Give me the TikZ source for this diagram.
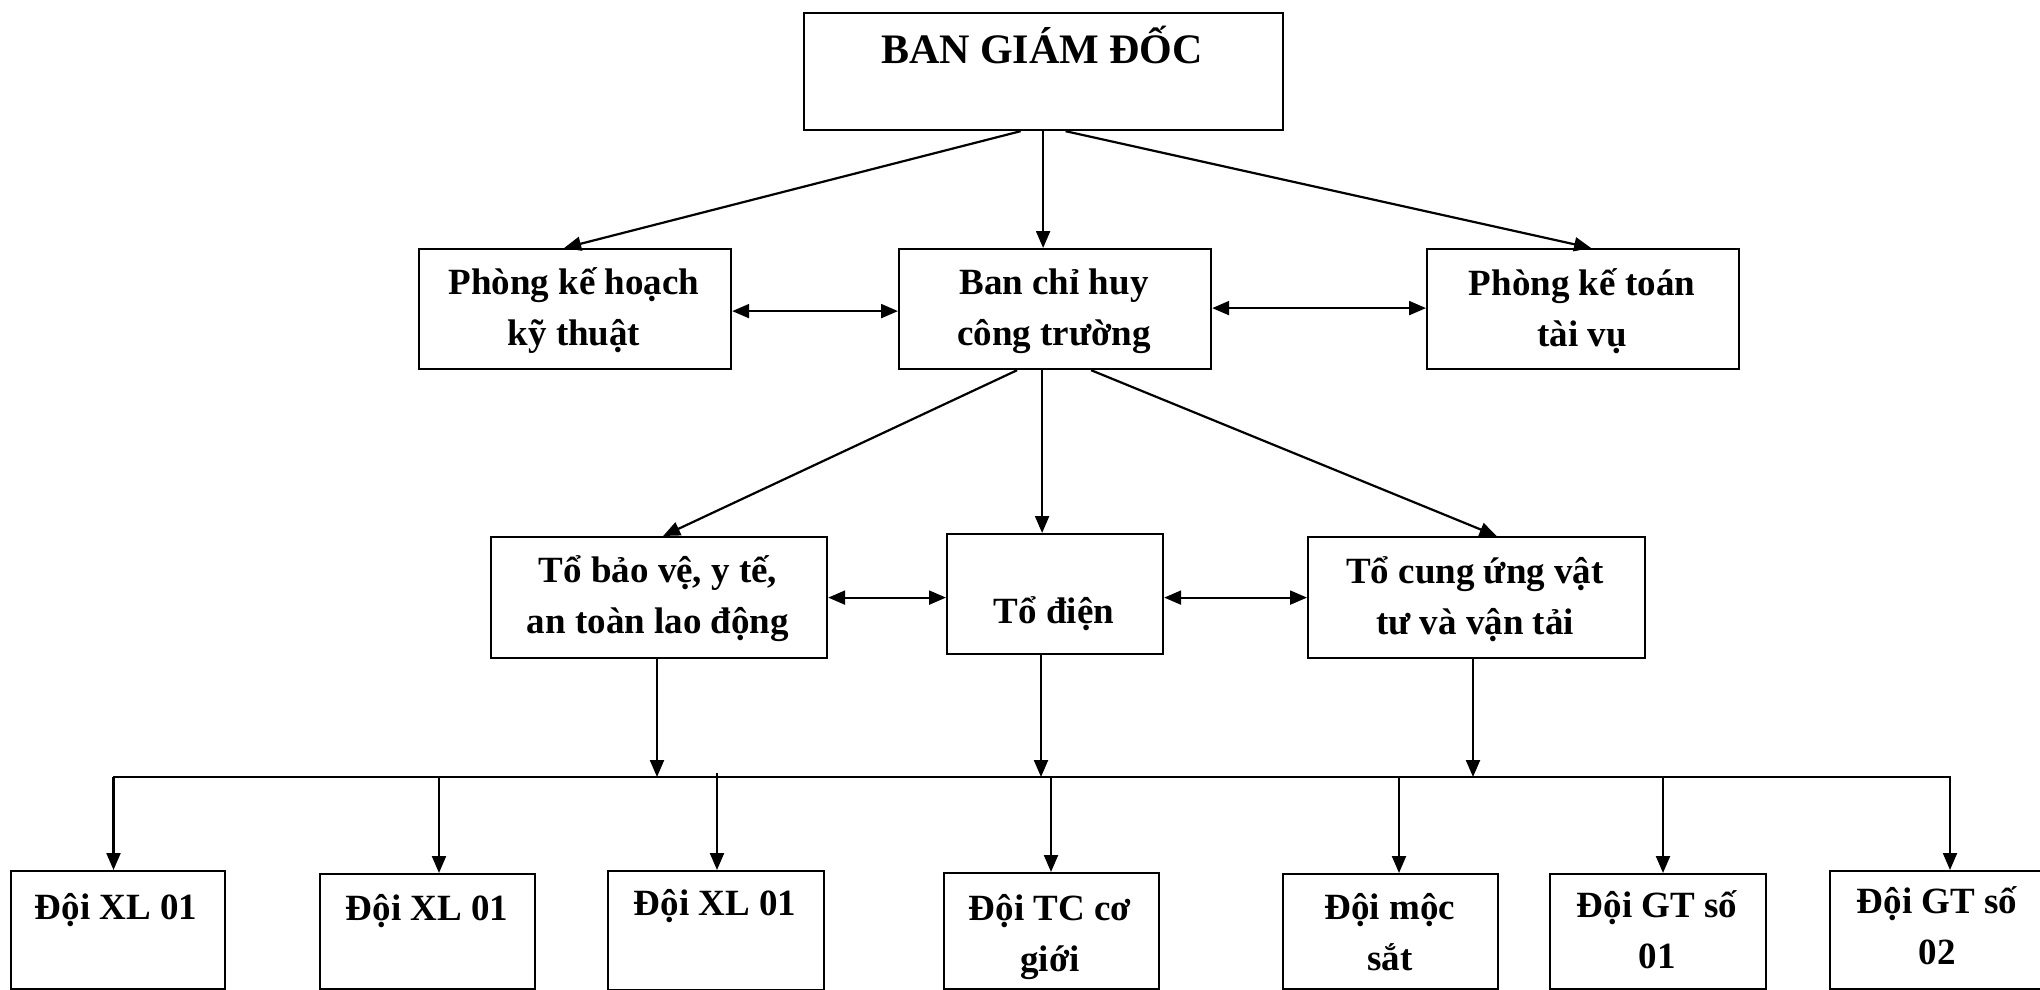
\documentclass[tikz,border=0pt]{standalone}
\usepackage{fontspec}
\setmainfont{Liberation Serif}
\usetikzlibrary{arrows.meta}
\tikzset{
  box/.style={draw, line width=2.2pt, inner sep=0pt, anchor=north west},
  lbl/.style={font=\fontsize{37}{51}\selectfont\bfseries, align=center, inner sep=0pt},
  arr/.style={line width=2.2pt, -{Triangle[length=17pt,width=14pt]}},
  darr/.style={line width=2.2pt, {Triangle[length=17pt,width=14pt]}-{Triangle[length=17pt,width=14pt]}},
}
\begin{document}
\begin{tikzpicture}[x=1pt,y=-1pt]
\useasboundingbox[fill=white] (0,0) rectangle (2040,990);
\begin{scope}
\clip (0,0) rectangle (2040,990);
% top
\node[box, minimum width=479pt, minimum height=117pt] (bgd) at (803,12) {};
\node[lbl, font=\fontsize{42}{50}\selectfont\bfseries] (tbgd) at (1042,45) {BAN GIÁM ĐỐC};
% row 2
\node[box, minimum width=312pt, minimum height=120pt] (pkh) at (418,248) {};
\node[box, minimum width=312pt, minimum height=120pt] (bch) at (898,248) {};
\node[box, minimum width=312pt, minimum height=120pt] (pkt) at (1426,248) {};
\node[lbl] (tpkh) at (574,311) {Phòng kế hoạch\\kỹ thuật};
\node[lbl] (tbch) at (1054,311) {Ban chỉ huy\\công trường};
\node[lbl] (tpkt) at (1582,311) {Phòng kế toán\\tài vụ};
% row 3
\node[box, minimum width=336pt, minimum height=121pt] (tbv) at (490,536) {};
\node[box, minimum width=216pt, minimum height=120pt] (tdi) at (946,533) {};
\node[box, minimum width=337pt, minimum height=121pt] (tcu) at (1307,536) {};
\node[lbl] (ttbv) at (658,599) {Tổ bảo vệ, y tế,\\an toàn lao động};
\node[lbl] (ttdi) at (1054,614) {Tổ điện};
\node[lbl] (ttcu) at (1475,599) {Tổ cung ứng vật\\tư và vận tải};
% bottom row
\node[box, minimum width=214pt, minimum height=118pt] (b1) at (10,870) {};
\node[box, minimum width=215pt, minimum height=115pt] (b2) at (319,873) {};
\node[box, minimum width=216pt, minimum height=119pt] (b3) at (607,870) {};
\node[box, minimum width=215pt, minimum height=116pt] (b4) at (943,872) {};
\node[box, minimum width=215pt, minimum height=115pt] (b5) at (1282,873) {};
\node[box, minimum width=216pt, minimum height=115pt] (b6) at (1549,873) {};
\node[box, minimum width=216pt, minimum height=118pt] (b7) at (1829,870) {};
\node[lbl] (tb1) at (116,910) {Đội XL 01};
\node[lbl] (tb2) at (427,911) {Đội XL 01};
\node[lbl] (tb3) at (715,906) {Đội XL 01};
\node[lbl] (tb4) at (1050,937) {Đội TC cơ\\giới};
\node[lbl] (tb5) at (1390,932) {Đội mộc\\sắt};
\node[lbl] (tb6) at (1657,930) {Đội GT số\\01};
\node[lbl] (tb7) at (1937,926) {Đội GT số\\02};
% arrows from top
\draw[arr] ([xshift=-23pt]bgd.south) -- ([xshift=-11pt]pkh.north);
\draw[arr] ([xshift=-0.5pt]bgd.south) -- ([xshift=-12pt]bch.north);
\draw[arr] ([xshift=22pt]bgd.south) -- ([xshift=8pt]pkt.north);
% double arrows row 2
\draw[darr] ([yshift=-2pt]pkh.east) -- ([yshift=-2pt]bch.west);
\draw[darr] ([yshift=1pt]bch.east) -- ([yshift=1pt]pkt.west);
% arrows from bch
\draw[arr] ([xshift=-38pt]bch.south) -- ([xshift=4pt]tbv.north);
\draw[arr] ([xshift=-13pt]bch.south) -- ([xshift=-13pt]tdi.north);
\draw[arr] ([xshift=36pt]bch.south) -- ([xshift=20pt]tcu.north);
% double arrows row 3
\draw[darr] (tbv.east) -- (tbv.east -| tdi.west);
\draw[darr] (tdi.east |- tcu.west) -- (tcu.west);
% bus
\coordinate (bL) at (113,777);
\coordinate (bR) at (1951,777);
\draw[line width=2.2pt] (bL) -- (bR);
\coordinate (u1) at (657,777);
\coordinate (u2) at (1041,777);
\coordinate (u3) at (1473,777);
\draw[arr] (tbv.south -| u1) -- (u1);
\draw[arr] (tdi.south -| u2) -- (u2);
\draw[arr] (tcu.south -| u3) -- (u3);
\coordinate (d1) at (113.5,777);
\coordinate (d2) at (439,777);
\coordinate (d3) at (717,773);
\coordinate (d4) at (1051,777);
\coordinate (d5) at (1399,777);
\coordinate (d6) at (1663,777);
\coordinate (d7) at (1950,777);
\draw[arr] (d1) -- (d1 |- b1.north);
\draw[arr] (d2) -- (d2 |- b2.north);
\draw[arr] (d3) -- (d3 |- b3.north);
\draw[arr] (d4) -- (d4 |- b4.north);
\draw[arr] (d5) -- (d5 |- b5.north);
\draw[arr] (d6) -- (d6 |- b6.north);
\draw[arr] (d7) -- (d7 |- b7.north);
\end{scope}
\end{tikzpicture}
\end{document}
